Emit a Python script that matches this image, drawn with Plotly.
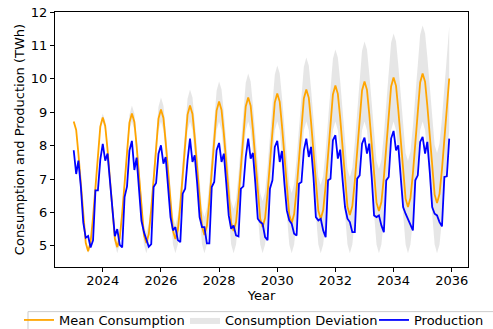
import numpy as np
import plotly.graph_objects as go

years = list(range(2023, 2036))
months = list(range(1, 13))
dates = [f"{y}-{m:02d}-01" for y in years for m in months]

mean_consumption = [
    8.72, 8.47, 7.76, 6.78, 5.81, 5.09, 4.84, 5.11, 5.85, 6.84, 7.84, 8.57,
    8.84, 8.59, 7.88, 6.90, 5.93, 5.21, 4.96, 5.23, 5.97, 6.96, 7.96, 8.69,
    8.96, 8.71, 8.00, 7.02, 6.05, 5.33, 5.08, 5.35, 6.09, 7.08, 8.08, 8.81,
    9.08, 8.83, 8.12, 7.14, 6.17, 5.45, 5.20, 5.47, 6.21, 7.20, 8.20, 8.93,
    9.20, 8.95, 8.24, 7.26, 6.29, 5.57, 5.32, 5.59, 6.33, 7.32, 8.32, 9.05,
    9.32, 9.07, 8.36, 7.38, 6.41, 5.69, 5.44, 5.71, 6.45, 7.44, 8.44, 9.17,
    9.44, 9.19, 8.48, 7.50, 6.53, 5.81, 5.56, 5.83, 6.57, 7.56, 8.56, 9.29,
    9.56, 9.31, 8.60, 7.62, 6.65, 5.93, 5.68, 5.95, 6.69, 7.68, 8.68, 9.41,
    9.68, 9.43, 8.72, 7.74, 6.77, 6.05, 5.80, 6.07, 6.81, 7.80, 8.80, 9.53,
    9.80, 9.55, 8.84, 7.86, 6.89, 6.17, 5.92, 6.19, 6.93, 7.92, 8.92, 9.65,
    9.92, 9.67, 8.96, 7.98, 7.01, 6.29, 6.04, 6.31, 7.05, 8.04, 9.04, 9.77,
    10.04, 9.79, 9.08, 8.10, 7.13, 6.41, 6.16, 6.43, 7.17, 8.16, 9.16, 9.89,
    10.16, 9.91, 9.20, 8.22, 7.25, 6.53, 6.28, 6.55, 7.29, 8.28, 9.28, 10.01,
]

consumption_deviation = [
    0.00, 0.01, 0.02, 0.03, 0.04, 0.05, 0.06, 0.07, 0.08, 0.09, 0.10, 0.11,
    0.12, 0.13, 0.14, 0.15, 0.16, 0.17, 0.18, 0.19, 0.20, 0.21, 0.22, 0.23,
    0.24, 0.25, 0.26, 0.27, 0.28, 0.29, 0.30, 0.31, 0.32, 0.33, 0.34, 0.35,
    0.36, 0.37, 0.38, 0.39, 0.40, 0.41, 0.42, 0.43, 0.44, 0.45, 0.46, 0.47,
    0.48, 0.49, 0.50, 0.51, 0.52, 0.53, 0.54, 0.55, 0.56, 0.57, 0.58, 0.59,
    0.60, 0.61, 0.62, 0.63, 0.64, 0.65, 0.66, 0.67, 0.68, 0.69, 0.70, 0.71,
    0.72, 0.73, 0.74, 0.75, 0.76, 0.77, 0.78, 0.79, 0.80, 0.81, 0.82, 0.83,
    0.84, 0.85, 0.86, 0.87, 0.88, 0.89, 0.90, 0.91, 0.92, 0.93, 0.94, 0.95,
    0.96, 0.97, 0.98, 0.99, 1.00, 1.01, 1.02, 1.03, 1.04, 1.05, 1.06, 1.07,
    1.08, 1.09, 1.10, 1.11, 1.12, 1.13, 1.14, 1.15, 1.16, 1.17, 1.18, 1.19,
    1.20, 1.21, 1.22, 1.23, 1.24, 1.25, 1.26, 1.27, 1.28, 1.29, 1.30, 1.31,
    1.32, 1.33, 1.34, 1.35, 1.36, 1.37, 1.38, 1.39, 1.40, 1.41, 1.42, 1.43,
    1.44, 1.45, 1.46, 1.47, 1.48, 1.49, 1.50, 1.51, 1.52, 1.53, 1.54, 1.55,
]

production = [
    7.86, 7.15, 7.55, 6.76, 5.70, 5.24, 5.29, 4.95, 5.16, 6.66, 6.66, 7.58,
    8.05, 7.55, 7.76, 6.90, 5.90, 5.29, 5.50, 5.03, 4.95, 6.46, 6.78, 7.85,
    8.14, 7.27, 7.64, 6.70, 5.75, 5.41, 5.20, 4.97, 5.05, 6.76, 6.88, 7.76,
    8.01, 7.46, 7.66, 6.76, 5.86, 5.46, 5.56, 5.17, 5.11, 6.56, 6.71, 7.56,
    8.21, 7.51, 7.71, 6.86, 5.86, 5.56, 5.56, 5.07, 5.07, 6.76, 6.91, 7.86,
    8.08, 7.51, 7.76, 6.86, 5.91, 5.51, 5.61, 5.31, 5.28, 6.71, 6.78, 7.66,
    8.21, 7.61, 7.78, 6.86, 5.81, 5.71, 5.66, 5.26, 5.17, 6.71, 6.96, 7.96,
    8.14, 7.51, 7.84, 6.86, 6.06, 5.76, 5.66, 5.36, 5.31, 6.86, 6.91, 7.86,
    8.21, 7.66, 7.96, 7.06, 5.86, 5.76, 5.81, 5.46, 5.26, 6.96, 7.01, 8.16,
    8.31, 7.61, 7.88, 6.96, 6.16, 5.81, 5.71, 5.41, 5.41, 7.01, 7.11, 8.06,
    8.24, 7.76, 8.06, 7.06, 5.91, 5.86, 5.91, 5.61, 5.41, 6.96, 7.06, 8.21,
    8.44, 7.86, 8.01, 7.06, 6.16, 5.96, 5.81, 5.61, 5.46, 6.96, 7.11, 8.11,
    8.26, 7.76, 8.11, 7.21, 6.16, 5.96, 5.91, 5.71, 5.58, 7.06, 7.08, 8.21,
]

tick_years = [2024, 2026, 2028, 2030, 2032, 2034, 2036]
y_ticks = [5, 6, 7, 8, 9, 10, 11, 12]

mean_arr = np.array(mean_consumption)
dev_arr = np.array(consumption_deviation)
lower = mean_arr - dev_arr
upper = mean_arr + dev_arr

FONT = "DejaVu Sans"

fig = go.Figure()
fig.add_trace(go.Scatter(
    x=dates, y=lower, mode="lines", line=dict(width=0, color="rgba(0,0,0,0)"),
    showlegend=False, hoverinfo="skip",
))
fig.add_trace(go.Scatter(
    x=dates, y=upper, mode="lines", line=dict(width=0, color="rgba(0,0,0,0)"),
    fill="tonexty", fillcolor="rgba(128,128,128,0.2)",
    name="Consumption Deviation", legendrank=2, legendwidth=144,
))
fig.add_trace(go.Scatter(
    x=dates, y=mean_consumption, mode="lines", line=dict(color="#FFA500", width=1.8),
    name="Mean Consumption", legendrank=1, legendwidth=121,
))
fig.add_trace(go.Scatter(
    x=dates, y=production, mode="lines", line=dict(color="#0000FF", width=1.8),
    name="Production", legendrank=3, legendwidth=72,
))

axis_common = dict(
    showline=True, linecolor="black", linewidth=1, mirror=True,
    ticks="outside", ticklen=4, tickcolor="black", tickwidth=1,
    showgrid=False, zeroline=False,
    tickfont=dict(family=FONT, size=13, color="black"),
)

fig.update_layout(
    width=493, height=329,
    margin=dict(l=55, r=25, t=12, b=62, autoexpand=False),
    paper_bgcolor="white", plot_bgcolor="white",
    font=dict(family=FONT, size=13, color="black"),
    xaxis=dict(
        type="date", range=["2022-05-11", "2036-07-24"],
        tickvals=[f"{y}-01-01" for y in tick_years],
        ticktext=[str(y) for y in tick_years],
        ticklabelstandoff=-3,
        title=dict(text="Year", font=dict(family=FONT, size=13, color="black"), standoff=1),
        **axis_common,
    ),
    yaxis=dict(
        range=[4.365, 12.0005], tickvals=y_ticks,
        title=dict(text="Consumption and Production (TWh)",
                   font=dict(family=FONT, size=13, color="black"), standoff=3),
        **axis_common,
    ),
    legend=dict(
        orientation="h", x=-0.0872, xanchor="left", y=-0.149, yanchor="top",
        traceorder="normal",
        font=dict(family=FONT, size=13, color="black"),
        bgcolor="rgba(0,0,0,0)", borderwidth=0, itemwidth=30,
    ),
    shapes=[dict(
        type="rect", xref="paper", yref="paper",
        x0=-0.0654, x1=1.2, y0=-0.175, y1=-0.28,
        line=dict(color="#cccccc", width=1), fillcolor="rgba(0,0,0,0)", layer="above",
    )],
    showlegend=True,
)

fig.write_html(
    "out.html",
    config={"displayModeBar": False},
    post_script="document.body.style.margin='0';document.body.style.overflow='hidden';",
)
